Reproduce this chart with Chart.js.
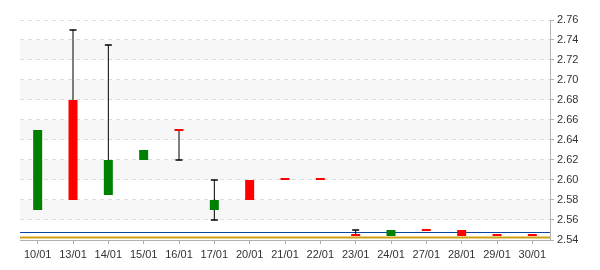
<!DOCTYPE html>
<html>
<head>
<meta charset="utf-8">
<script src="https://cdn.jsdelivr.net/npm/chart.js@4"></script>
<style>
html,body{margin:0;padding:0;background:#fff;}
#wrap{width:600px;height:270px;position:relative;}
</style>
</head>
<body>
<div id="wrap"><canvas id="c" width="600" height="270"></canvas></div>
<script>
const labels = ['10/01','13/01','14/01','15/01','16/01','17/01','20/01','21/01','22/01','23/01','24/01','27/01','28/01','29/01','30/01'];
const openV  = [2.57, 2.68, 2.585, 2.62, 2.651, 2.57, 2.60, 2.60, 2.60, 2.546, 2.544, 2.551, 2.55, 2.546, 2.546];
const closeV = [2.65, 2.58, 2.62, 2.63, 2.649, 2.58, 2.58, 2.60, 2.60, 2.544, 2.55, 2.549, 2.544, 2.544, 2.544];
const highV  = [2.65, 2.75, 2.735, 2.63, 2.651, 2.60, 2.60, 2.60, 2.60, 2.55, 2.55, 2.551, 2.55, 2.546, 2.546];
const lowV   = [2.57, 2.58, 2.585, 2.62, 2.62, 2.56, 2.58, 2.60, 2.60, 2.544, 2.544, 2.549, 2.544, 2.544, 2.544];
const yTicks = [2.54, 2.56, 2.58, 2.60, 2.62, 2.64, 2.66, 2.68, 2.70, 2.72, 2.74, 2.76];
const refLines = [2.5477, 2.5423];
const refColors = ['#0a48a0', '#d0a010'];
const refWidths = [1.2, 2];

const UP = '#008000', DOWN = '#ff0000';
const bodyColors = openV.map((o, i) => closeV[i] > o ? UP : DOWN);
// caps only where the wick sticks out of the body
const highCaps = highV.map((h, i) => h > Math.max(openV[i], closeV[i]) ? h : null);
const lowCaps = lowV.map((l, i) => l < Math.min(openV[i], closeV[i]) ? l : null);

const bandsPlugin = {
  id: 'bands',
  beforeDraw(chart) {
    const {ctx, chartArea: a, scales: {y}} = chart;
    ctx.save();
    ctx.fillStyle = '#f7f7f7';
    for (let i = 1; i < yTicks.length - 1; i += 2) {
      const top = y.getPixelForValue(yTicks[i + 1]);
      const bot = y.getPixelForValue(yTicks[i]);
      ctx.fillRect(a.left, top, a.right - a.left, bot - top);
    }
    ctx.restore();
  },
  beforeDatasetsDraw(chart) {
    const {ctx, chartArea: a, scales: {y}} = chart;
    ctx.save();
    refLines.forEach((v, i) => {
      const py = Math.floor(y.getPixelForValue(v)) + 0.5;
      ctx.strokeStyle = refColors[i];
      ctx.lineWidth = refWidths[i];
      ctx.beginPath();
      ctx.moveTo(a.left, py);
      ctx.lineTo(a.right, py);
      ctx.stroke();
    });
    ctx.restore();
  }
};

new Chart(document.getElementById('c'), {
  type: 'bar',
  data: {
    labels,
    datasets: [
      {
        label: 'body',
        data: openV.map((o, i) => [o, closeV[i]]),
        backgroundColor: bodyColors,
        borderWidth: 0,
        inflateAmount: 0,
        barThickness: 9,
        minBarLength: 2,
        grouped: false,
        order: 0
      },
      {
        label: 'wick',
        data: lowV.map((l, i) => [l, highV[i]]),
        backgroundColor: '#000',
        borderWidth: 0,
        inflateAmount: 0,
        barThickness: 1,
        grouped: false,
        order: 2
      },
      {
        type: 'line',
        label: 'highCap',
        data: highCaps,
        showLine: false,
        pointStyle: 'line',
        pointRadius: 3.5,
        pointBorderColor: '#000',
        pointBorderWidth: 1.5,
        order: 1
      },
      {
        type: 'line',
        label: 'lowCap',
        data: lowCaps,
        showLine: false,
        pointStyle: 'line',
        pointRadius: 3.5,
        pointBorderColor: '#000',
        pointBorderWidth: 1.5,
        order: 1
      }
    ]
  },
  options: {
    responsive: false,
    animation: false,
    layout: {padding: {left: 20, top: 20, right: 0, bottom: 0}},
    plugins: {legend: {display: false}, tooltip: {enabled: false}},
    scales: {
      x: {
        offset: true,
        grid: {drawOnChartArea: false, offset: false, tickLength: 4, color: '#aaa'},
        border: {color: '#b0b0b0', width: 1},
        ticks: {color: '#333', font: {family: 'Liberation Sans, Arial', size: 11}, padding: 4, maxRotation: 0, autoSkip: false},
        afterFit: s => { s.height = 30; }
      },
      y: {
        position: 'right',
        min: 2.54,
        max: 2.76,
        afterBuildTicks: s => { s.ticks = yTicks.map(v => ({value: v})); },
        grid: {color: '#dddddd', tickLength: 4, tickColor: '#b4b4b4', tickBorderDash: []},
        border: {color: '#b4b4b4', width: 1, dash: [4, 4]},
        ticks: {color: '#333', font: {family: 'Liberation Sans, Arial', size: 11}, padding: 3,
                callback: v => Number(v).toFixed(2)},
        afterFit: s => { s.width = 50; }
      }
    }
  },
  plugins: [bandsPlugin]
});
</script>
</body>
</html>
